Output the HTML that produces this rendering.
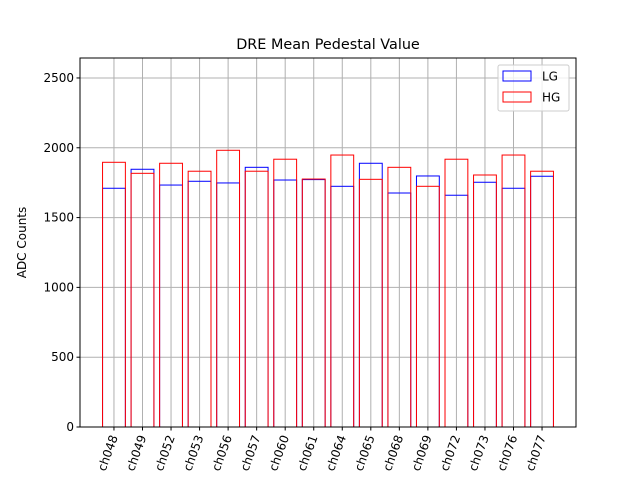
<!DOCTYPE html>
<html><head><meta charset="utf-8"><style>
body{margin:0;background:#fff}
svg text{font-family:"DejaVu Sans","Liberation Sans",sans-serif;fill:#000}
</style></head><body>
<svg width="640" height="480" viewBox="0 0 640 480">
<g id="grid"></g>
<g id="bars"></g>
<g id="axes"></g>
</svg>
<script>
const categories=["ch048","ch049","ch052","ch053","ch056","ch057","ch060","ch061","ch064","ch065","ch068","ch069","ch072","ch073","ch076","ch077"];
const lgValues=[1710,1846,1733,1760,1748,1860,1769,1772,1724,1889,1676,1798,1660,1753,1710,1796];
const hgValues=[1896,1817,1889,1832,1982,1832,1918,1776,1948,1774,1860,1724,1918,1805,1948,1832];
const yTicks=[0,500,1000,1500,2000,2500];
const NS="http://www.w3.org/2000/svg";
const L=80,R=576,T=58,B=427;
const xmin=-1.19,xmax=16.19,ymax=2643;
const xs=i=>L+(i-xmin)/(xmax-xmin)*(R-L);
const ys=v=>B-v/ymax*(B-T);
function mk(tag,attrs,parent){const e=document.createElementNS(NS,tag);for(const k in attrs)e.setAttribute(k,attrs[k]);parent.appendChild(e);return e;}
const grid=document.getElementById('grid'),bars=document.getElementById('bars'),axes=document.getElementById('axes');
categories.forEach((c,i)=>{const l=mk('line',{x1:xs(i),x2:xs(i),y1:T,y2:B,stroke:'#b0b0b0','stroke-width':1},grid);

});
yTicks.forEach(v=>{const l=mk('line',{x1:L,x2:R,y1:ys(v),y2:ys(v),stroke:'#b0b0b0','stroke-width':1},grid);

});
const bw=0.8*(R-L)/(xmax-xmin);
categories.forEach((c,i)=>{
 const b1=mk('rect',{x:xs(i)-bw/2,y:ys(lgValues[i]),width:bw,height:B-ys(lgValues[i]),fill:'none',stroke:'blue','stroke-width':1},bars);
 
 
 const b2=mk('rect',{x:xs(i)-bw/2,y:ys(hgValues[i]),width:bw,height:B-ys(hgValues[i]),fill:'none',stroke:'red','stroke-width':1},bars);
 
 
 mk('line',{x1:xs(i),x2:xs(i),y1:B,y2:B+3.5,stroke:'#000'},axes);
 const t=mk('text',{x:0,y:0,'font-size':12,'text-anchor':'end',transform:`translate(${xs(i)+4},${B+10}) rotate(-70)`},axes);
 t.textContent=c;
 
 
});
yTicks.forEach(v=>{mk('line',{x1:L-3.5,x2:L,y1:ys(v),y2:ys(v),stroke:'#000'},axes);
 const t=mk('text',{x:L-6,y:ys(v)+4,'font-size':12,'text-anchor':'end'},axes);t.textContent=v;
 
 });
const fr=mk('rect',{x:L,y:T,width:R-L,height:B-T,fill:'none',stroke:'#000','stroke-width':1},axes);


const ti=mk('text',{x:(L+R)/2,y:49,'font-size':14.4,'text-anchor':'middle'},axes);ti.textContent='DRE Mean Pedestal Value';


const yl=mk('text',{x:0,y:0,'font-size':12,'text-anchor':'middle',transform:`translate(26,${(T+B)/2}) rotate(-90)`},axes);yl.textContent='ADC Counts';


const lg=mk('g',{},axes);


mk('rect',{x:498,y:65,width:71,height:46,fill:'#fff','fill-opacity':0.8,stroke:'#ccc',rx:2},lg);
[['LG','blue',76],['HG','red',97]].forEach(([n,c,y])=>{
 const r=mk('rect',{x:503,y:y-5,width:28,height:10,fill:'none',stroke:c},lg);
 
 
 const t=mk('text',{x:542,y:y+4.5,'font-size':12},lg);t.textContent=n;
 
 
});
</script>
</body></html>
